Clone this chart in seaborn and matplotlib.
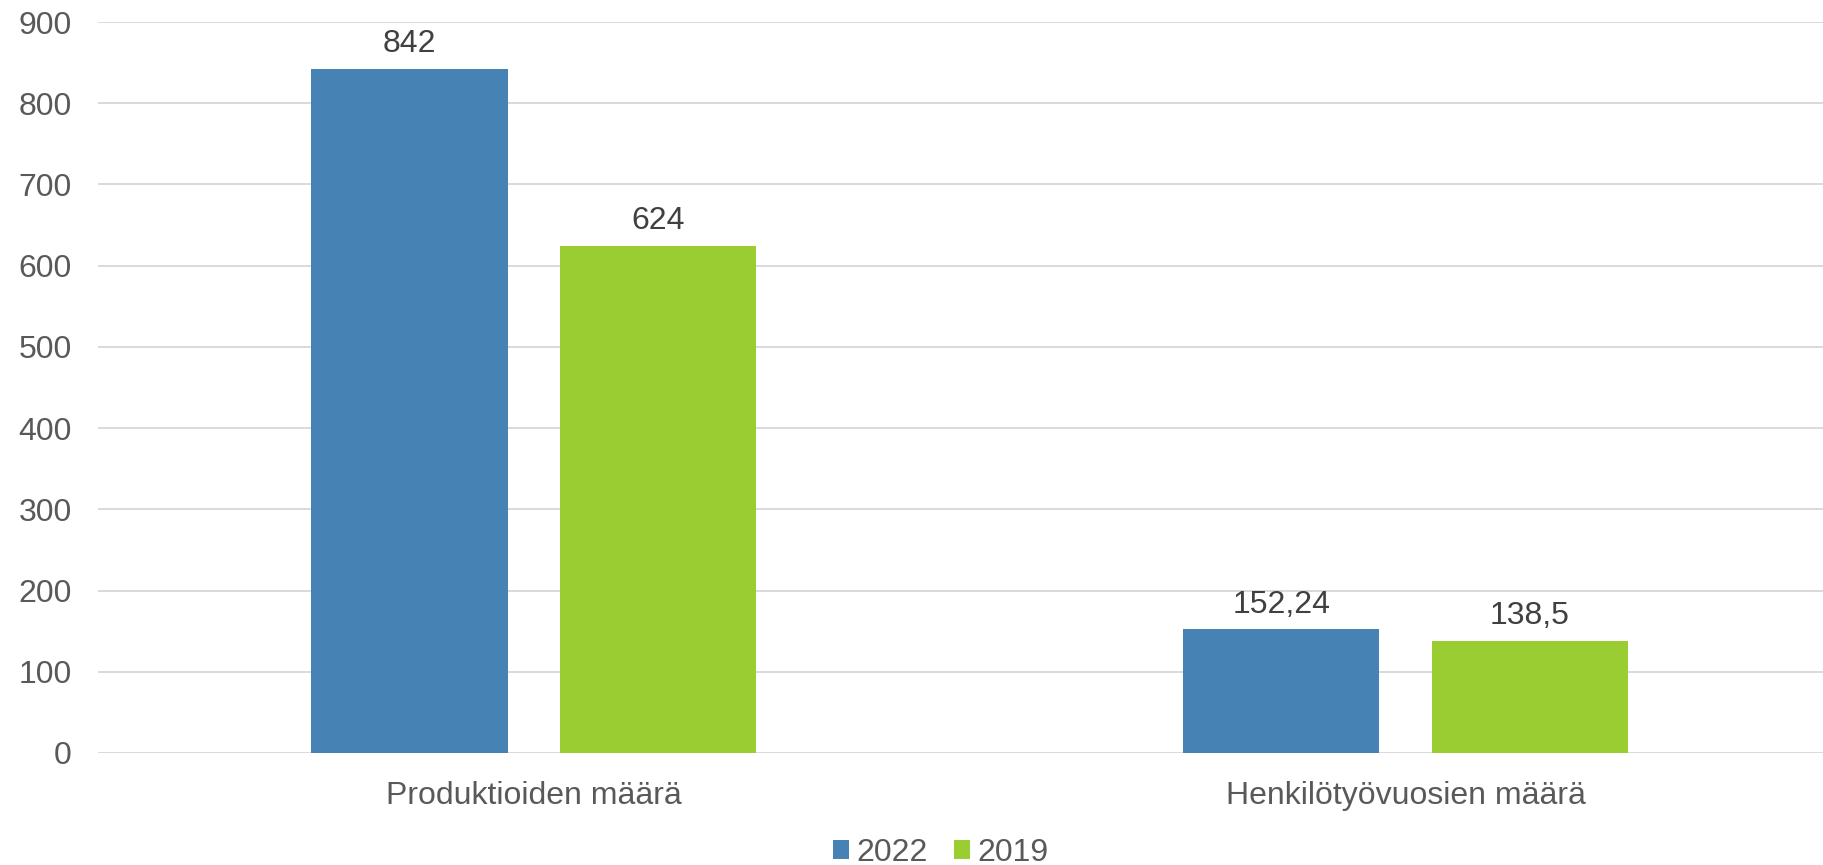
import matplotlib
matplotlib.use("Agg")
import matplotlib.pyplot as plt
import seaborn as sns
import pandas as pd

categories = ["Produktioiden määrä", "Henkilötyövuosien määrä"]
years = ["2022", "2019"]
values_2022 = [842, 152.24]
values_2019 = [624, 138.5]
colors = ["#4682B4", "#9ACD32"]
yticks = [0, 100, 200, 300, 400, 500, 600, 700, 800, 900]

rows = []
for c, v in zip(categories, values_2022):
    rows.append({"cat": c, "year": "2022", "val": v})
for c, v in zip(categories, values_2019):
    rows.append({"cat": c, "year": "2019", "val": v})
df = pd.DataFrame(rows)

sns.set_theme(style="white")
plt.rcParams["font.family"] = ["Liberation Sans", "DejaVu Sans"]

FS = 23

fig = plt.figure(figsize=(18.23, 8.65), dpi=100)
ax = fig.add_axes([98 / 1823, (865 - 753) / 865, (1823 - 98) / 1823, (753 - 22) / 865])

sns.barplot(data=df, x="cat", y="val", hue="year", hue_order=years, order=categories,
            palette=colors, width=0.57, gap=0.21, ax=ax, saturation=1, legend=True,
            edgecolor="none", linewidth=0)

ax.set_ylim(0, 900)
ax.set_xlim(-0.5, 1.479)
ax.set_yticks(yticks)
ax.set_yticklabels([str(t) for t in yticks])
ax.yaxis.grid(True, color="#D9D9D9", linewidth=1.4)
ax.set_axisbelow(True)
for s in ax.spines.values():
    s.set_visible(False)
ax.tick_params(axis="y", length=0, pad=19, labelsize=FS, labelcolor="#595959")
ax.tick_params(axis="x", length=0, pad=20, labelsize=FS, labelcolor="#595959")
ax.set_xlabel("")
ax.set_ylabel("")

def fmt(v):
    s = f"{v:g}"
    return s.replace(".", ",")

for cont, vals in zip(ax.containers, [values_2022, values_2019]):
    ax.bar_label(cont, labels=[fmt(v) for v in vals], padding=7, fontsize=FS, color="#404040")

handles, labels = ax.get_legend_handles_labels()
ax.legend(handles, labels, loc="center", bbox_to_anchor=(0.516, 0.014),
          bbox_transform=fig.transFigure, ncol=2, frameon=False, fontsize=FS,
          handlelength=0.52, handleheight=0.52, handletextpad=0.23, columnspacing=0.8,
          labelcolor="#595959", borderpad=0)

fig.savefig("out.png", dpi=100)
